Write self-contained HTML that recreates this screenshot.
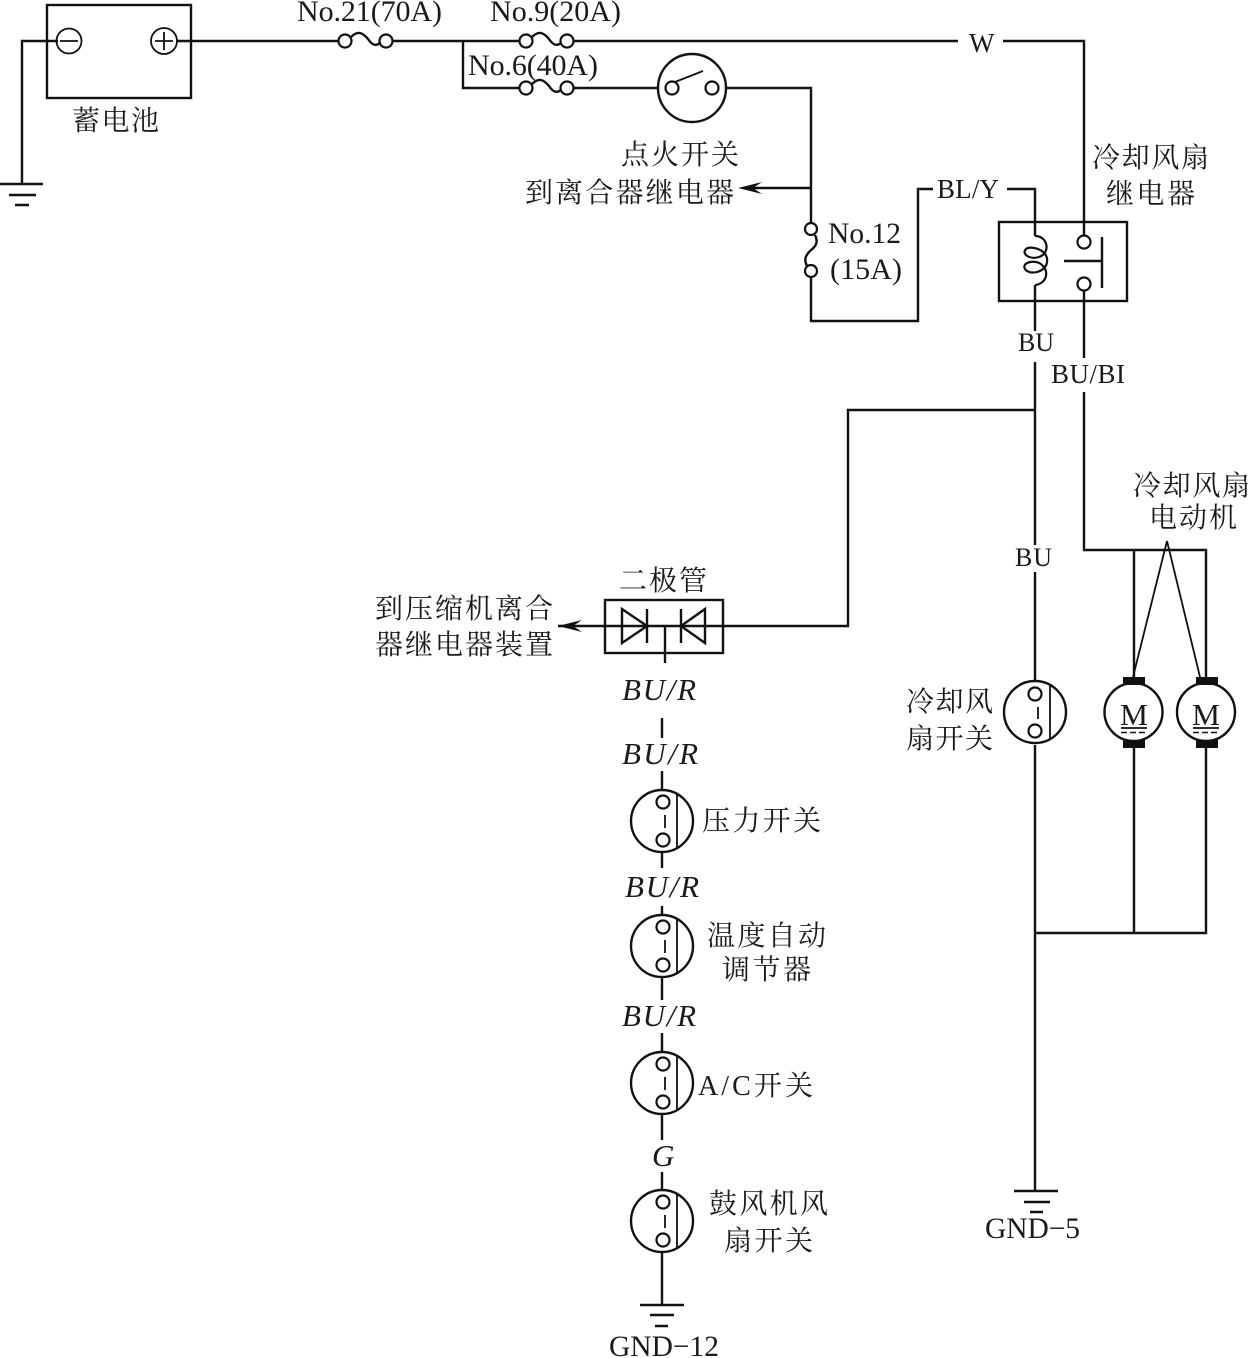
<!DOCTYPE html>
<html><head><meta charset="utf-8"><style>
html,body{margin:0;padding:0;background:#fff}
svg{display:block}
.l{fill:none;stroke:#111;stroke-width:2.4}
.t{fill:none;stroke:#111;stroke-width:1.8}
.c{fill:#fff;stroke:#111;stroke-width:2.2}
text{fill:#1a1a1a;font-family:"Liberation Serif","Noto Serif CJK SC",serif;font-size:28px}
.n30{font-size:30px}
.n29{font-size:29.500px}
.n27{font-size:27px}
.n26{font-size:26px}
.m{font-size:31px}
.i{font-style:italic;font-size:31px}
</style></head><body>
<svg width="1250" height="1358" viewBox="0 0 1250 1358" xmlns="http://www.w3.org/2000/svg">
<!-- wires -->
<path class="l" d="M58 41H22V184M0 184H43M9 195H36M15 205H29"/>
<rect class="l" x="47" y="5" width="144" height="93"/>
<circle class="t" cx="69" cy="41" r="12.5"/><path class="t" d="M60 41H78"/>
<circle class="t" cx="164" cy="41" r="13"/><path class="t" d="M155 41H173M164 32V50"/>
<path class="l" d="M177 41H339M392 41H520M573 41H958M1003 41H1084V236"/>
<path class="l" d="M463 41V88H520M573 88H658M726 88H811V224M811 277V321H918V189H933"/>
<path class="l" d="M811 188H750"/><path d="M738 188L762 182L753 188L762 194Z" fill="#111"/>
<!-- fuses -->
<path class="l" d="M351 37C358 30 363 33 368 39C372 45 376 47 381 42"/>
<circle class="c" cx="345" cy="41" r="6.5"/><circle class="c" cx="386" cy="41" r="6.5"/>
<path class="l" d="M532 37C539 30 544 33 549 39C553 45 557 47 562 42"/>
<circle class="c" cx="526" cy="41" r="6.5"/><circle class="c" cx="567" cy="41" r="6.5"/>
<path class="l" d="M532 84C539 77 544 80 549 86C553 92 557 94 562 89"/>
<circle class="c" cx="526" cy="88" r="6.5"/><circle class="c" cx="567" cy="88" r="6.5"/>
<path class="l" d="M815 235C819 243 815 247 810 251C805 256 804 260 807 266"/>
<circle class="c" cx="811" cy="229" r="6"/><circle class="c" cx="811" cy="271" r="6"/>
<!-- ignition -->
<circle class="l" cx="692" cy="88" r="34"/>
<circle class="c" cx="672" cy="88" r="6.5"/><circle class="c" cx="712" cy="88" r="6.5"/>
<path class="t" d="M675 82L703 71"/>
<!-- relay -->
<rect class="l" x="999" y="222" width="128" height="79"/>
<path class="l" d="M1007 189H1035V236M1035 285V331M1035 362V545M1035 572V680M1035 745V1190M1084 290V358M1084 392V550H1206V677M1134 550V677"/>
<path class="t" style="stroke-width:2.200" d="M1035 236C1048 236 1051 253 1039 257C1030 260 1021 254 1026 249C1031 245 1049 250 1047 262C1046 272 1030 276 1025 269C1021 262 1036 259 1042 265C1050 272 1046 284 1035 285"/>
<circle class="c" cx="1084" cy="242" r="6.5"/><circle class="c" cx="1084" cy="284" r="6.5"/>
<path class="l" d="M1102 237V288M1064 261H1102"/>
<!-- lower right -->
<path class="l" d="M1035 410H848V626H558"/>
<path d="M558 626L582 620L573 626L582 632Z" fill="#111"/>
<path class="l" d="M1134 748V933M1206 748V933H1035"/>
<path class="l" d="M1014 1191H1058M1024 1202H1050M1030 1212H1043"/>
<path class="t" d="M1167 541L1133 677M1167 541L1200 677"/>
<!-- fan switch -->
<circle class="l" cx="1035" cy="712" r="31"/><circle class="c" cx="1035" cy="694" r="6.5"/><circle class="c" cx="1035" cy="731" r="6.5"/>
<path class="t" d="M1050 686V739M1038 707V719"/>
<!-- motors -->
<circle class="l" cx="1133.500" cy="712" r="29"/>
<rect x="1123" y="677" width="22" height="8" fill="#111"/><rect x="1123" y="740" width="22" height="8" fill="#111"/>
<path class="t" d="M1121 728H1147"/><path class="t" style="stroke-dasharray:6 3;stroke-width:1.400" d="M1121 732.500H1147"/>
<circle class="l" cx="1206" cy="712" r="29"/>
<rect x="1196" y="677" width="22" height="8" fill="#111"/><rect x="1196" y="740" width="22" height="8" fill="#111"/>
<path class="t" d="M1193 728H1219"/><path class="t" style="stroke-dasharray:6 3;stroke-width:1.400" d="M1193 732.500H1219"/>
<text class="m" x="1120" y="725" textLength="28" lengthAdjust="spacingAndGlyphs">M</text>
<text class="m" x="1192" y="725" textLength="28" lengthAdjust="spacingAndGlyphs">M</text>
<!-- diode -->
<rect class="l" x="605" y="600" width="118" height="53"/>
<path class="l" d="M622 609V643L647 626ZM647 609V643M705 609V643L681 626ZM681 609V643"/>
<path class="l" d="M665 626V663"/>
<path class="l" d="M662 718V738M662 771V790M662 852V868M662 977V1000M662 1114V1140M662 1172V1190M662 1252V1304"/>
<path class="l" d="M662 906V914M662 1033V1052"/>
<path class="l" d="M640 1305H684M650 1315H674M655 1326H668"/>
<!-- switches -->
<circle class="l" cx="662" cy="821" r="31"/><circle class="c" cx="663" cy="802" r="6.5"/><circle class="c" cx="663" cy="840" r="6.5"/><path class="t" d="M677 793V848M665 815V828"/>
<circle class="l" cx="662" cy="946" r="31"/><circle class="c" cx="663" cy="927" r="6.5"/><circle class="c" cx="663" cy="965" r="6.5"/><path class="t" d="M677 918V973M665 940V953"/>
<circle class="l" cx="662" cy="1083" r="31"/><circle class="c" cx="663" cy="1064" r="6.5"/><circle class="c" cx="663" cy="1102" r="6.5"/><path class="t" d="M677 1055V1110M665 1077V1090"/>
<circle class="l" cx="662" cy="1221" r="31"/><circle class="c" cx="663" cy="1202" r="6.5"/><circle class="c" cx="663" cy="1240" r="6.5"/><path class="t" d="M677 1193V1248M665 1215V1228"/>
<!-- labels -->
<text x="72" y="130" textLength="87">蓄电池</text>
<text class="n30" x="297" y="21" textLength="145">No.21(70A)</text>
<text class="n30" x="490" y="21" textLength="131">No.9(20A)</text>
<text class="n30" x="468" y="75" textLength="130">No.6(40A)</text>
<text x="621" y="164" textLength="118">点火开关</text>
<text x="525" y="202" textLength="209">到离合器继电器</text>
<text class="n27" x="969" y="52" textLength="25">W</text>
<text class="n27" x="937" y="198" textLength="62">BL/Y</text>
<text class="n29" x="828" y="243" textLength="73">No.12</text>
<text class="n30" x="830" y="279" textLength="72">(15A)</text>
<text x="1092" y="167" textLength="117">冷却风扇</text>
<text x="1106" y="203" textLength="89">继电器</text>
<text class="n26" x="1018" y="351" textLength="36">BU</text>
<text class="n27" x="1051" y="383" textLength="74">BU/BI</text>
<text x="1133" y="495" textLength="117">冷却风扇</text>
<text x="1149" y="527" textLength="88">电动机</text>
<text class="n26" x="1015" y="566" textLength="37">BU</text>
<text x="906" y="711" textLength="87">冷却风</text>
<text x="906" y="748" textLength="87">扇开关</text>
<text x="619" y="590" textLength="88">二极管</text>
<text x="375" y="618" textLength="178">到压缩机离合</text>
<text x="375" y="654" textLength="178">器继电器装置</text>
<text class="i" x="622" y="700" textLength="74">BU/R</text>
<text class="i" x="622" y="764" textLength="76">BU/R</text>
<text class="i" x="625" y="897" textLength="74">BU/R</text>
<text class="i" x="622" y="1026" textLength="74">BU/R</text>
<text class="i" x="652" y="1166" textLength="21">G</text>
<text x="702" y="830" textLength="119">压力开关</text>
<text x="707" y="945" textLength="119">温度自动</text>
<text x="722" y="979" textLength="89">调节器</text>
<text x="698" y="1095" textLength="115">A/C开关</text>
<text x="709" y="1213" textLength="119">鼓风机风</text>
<text x="724" y="1250" textLength="89">扇开关</text>
<text class="n29" x="985" y="1238" textLength="95">GND−5</text>
<text class="n29" x="609" y="1356" textLength="110">GND−12</text>
</svg>
</body></html>
